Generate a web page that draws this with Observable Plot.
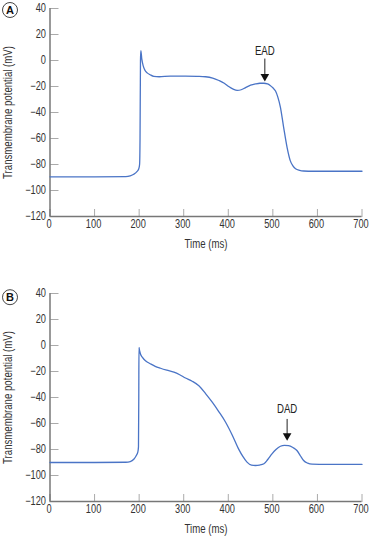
<!DOCTYPE html>
<html>
<head>
<meta charset="utf-8">
<script src="https://cdn.jsdelivr.net/npm/d3@7"></script>
<script src="https://cdn.jsdelivr.net/npm/@observablehq/plot@0.6"></script>
<style>
  html, body { margin: 0; padding: 0; background: #fff; }
  #chart { width: 369px; height: 537px; position: relative; }
  #chart svg { display: block; }
</style>
</head>
<body>
<div id="chart"></div>
<script>
// ---- Data ----
const timeA = [0,100,170,180,188,195,199,201,202,203,203.8,206,209,213,218,225,233,245,270,304,330,349,365,379,391,401,411,420,429,438,450,461,471,480,488,494,500,506,511,517,524,532,539,545,551,560,569,590,650,700];
const voltA = [-89.5,-89.5,-89.3,-88.7,-87.5,-85.5,-83.5,-80,-60,0,7.5,1,-4,-7.5,-9.5,-11,-12.2,-12.5,-12,-12,-12.2,-12.5,-13.5,-15.4,-17.5,-20,-22,-23,-22.5,-21,-19,-18,-17.5,-17.5,-18,-19.2,-21,-23.5,-28,-36,-51,-67,-77,-81,-83.3,-84.5,-85,-85.2,-85.2,-85.2];

const timeB = [0,100,170,180,188,193,197,198.5,199.2,199.6,201,203,207,215,225,236,248,262,278,291,304,319,334,349,364,379,394,409,423,433,442,452,461,470,480,489,498,507,517,526,535,545,554,562,569,578,588,620,700];
const voltB = [-90,-90,-89.8,-89.3,-87.5,-85,-82,-78,-40,-1.5,-4,-6.5,-9,-12,-14,-16,-17.5,-19,-20.5,-22.5,-25,-27.5,-31,-37,-43.6,-51,-59,-69,-79.5,-85.5,-89.7,-92,-92.3,-92,-91,-87.5,-83.4,-80,-77.5,-76.8,-77,-78.5,-80.8,-85,-88.5,-90.5,-91.3,-91.5,-91.5];

const xTicks = [0,100,200,300,400,500,600,700];
const yTicks = [40,20,0,-20,-40,-60,-80,-100,-120];

const panelLabels = ["A", "B"];
const annotLabels = ["EAD", "DAD"];
const annotTime = [482, 532];
const annotTop = [1.5, -56.5];
const annotTip = [-14.6, -71.8];
const annotText = [7.2, -49.2];

const xTitle = "Time (ms)";
const yTitle = "Transmembrane potential (mV)";

// ---- Drawing ----
const FONT = "'Liberation Sans', Arial, sans-serif";
const LINE = "#4a74c6";
const NARROW = 0.77; // the reference uses a condensed face

function panel(i, time, volt, opts) {
  const data = time.map((t, k) => ({t, v: volt[k]}));
  return Plot.plot({
    width: 369,
    height: opts.height,
    marginLeft: 49.5,
    marginRight: 7.5,
    marginTop: opts.marginTop,
    marginBottom: opts.marginBottom,
    style: {fontFamily: FONT, fontSize: "12px", color: "#333", background: "#fff"},
    x: {domain: [0, 700], ticks: xTicks},
    y: {domain: [-120, 40], ticks: yTicks},
    marks: [
      // inward tick marks
      Plot.axisY(yTicks, {anchor: "right", frameAnchor: "left", tickSize: 8, stroke: "#aaa", fill: "none", label: null, tickFormat: () => ""}),
      Plot.axisX(xTicks, {anchor: "top", frameAnchor: "bottom", tickSize: 8, stroke: "#aaa", fill: "none", label: null, tickFormat: () => ""}),
      // tick labels
      Plot.axisY(yTicks, {anchor: "left", tickSize: 0, tickPadding: 4, fill: "#333", label: null, tickFormat: d => d < 0 ? "\u2212" + Math.abs(d) : String(d)}),
      Plot.axisX(xTicks, {anchor: "bottom", tickSize: 0, tickPadding: 3, dx: -1, fill: "#333", label: null}),
      // axis lines
      Plot.ruleX([0], {stroke: "#555", strokeWidth: 1.2}),
      Plot.ruleY([-120], {stroke: "#777", strokeWidth: 1.5}),
      // axis titles
      Plot.text([yTitle], {frameAnchor: "left", textAnchor: "middle", lineAnchor: "middle", rotate: -90, dx: -42, fill: "#333", fontSize: 12.5}),
      Plot.text([xTitle], {frameAnchor: "bottom", textAnchor: "middle", lineAnchor: "middle", dy: 27, fill: "#333", fontSize: 12.5}),
      // curve
      Plot.line(data, {x: "t", y: "v", stroke: LINE, strokeWidth: 1.3, curve: "monotone-x"}),
      // annotation arrow
      Plot.link([0], {x1: annotTime[i], x2: annotTime[i], y1: annotTop[i], y2: annotTip[i] + 2.5, stroke: "#222", strokeWidth: 1}),
      Plot.dot([0], {x: annotTime[i], y: annotTip[i] + 2.3, symbol: "triangle", rotate: 180, r: 3.2, fill: "#111", stroke: "none"}),
      Plot.text([annotLabels[i]], {x: annotTime[i], y: annotText[i], fill: "#222", fontSize: 12.5}),
      // panel letter
      Plot.dot([0], {frameAnchor: "top-left", dx: -40, dy: opts.letterDy, r: 7.5, fill: "#fff", stroke: "#444", strokeWidth: 1}),
      Plot.text([panelLabels[i]], {frameAnchor: "top-left", textAnchor: "middle", lineAnchor: "middle", dx: -40, dy: opts.letterDy + 0.5, fill: "#111", fontWeight: "bold", fontSize: 11})
    ]
  });
}

function condense(svg) {
  svg.querySelectorAll("text").forEach(t => {
    const spans = t.querySelectorAll("tspan");
    const els = spans.length ? Array.from(spans) : [t];
    els.forEach(el => {
      const s = el.textContent;
      if (!s || panelLabels.includes(s)) return;
      const len = el.getComputedTextLength();
      if (len > 0) {
        el.setAttribute("textLength", (len * NARROW).toFixed(2));
        el.setAttribute("lengthAdjust", "spacingAndGlyphs");
      }
    });
  });
}

const root = document.getElementById("chart");
const svgA = panel(0, timeA, voltA, {height: 268, marginTop: 8, marginBottom: 52, letterDy: 1.5});
const svgB = panel(1, timeB, voltB, {height: 269, marginTop: 25, marginBottom: 36, letterDy: 3.7});
root.append(svgA, svgB);
condense(svgA);
condense(svgB);
</script>
</body>
</html>
